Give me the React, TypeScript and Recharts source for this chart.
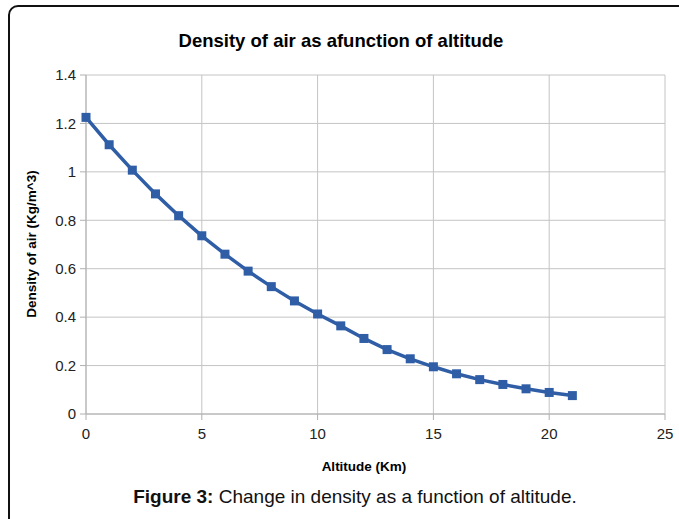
import React from "react";
import { LineChart, Line, XAxis, YAxis, CartesianGrid } from "recharts";

const altitudes = [0, 1, 2, 3, 4, 5, 6, 7, 8, 9, 10, 11, 12, 13, 14, 15, 16, 17, 18, 19, 20, 21];
const densities = [1.225, 1.112, 1.007, 0.909, 0.819, 0.736, 0.66, 0.59, 0.526, 0.467, 0.413, 0.364, 0.312, 0.266, 0.228, 0.195, 0.166, 0.142, 0.122, 0.104, 0.089, 0.076];
const xTicks = [0, 5, 10, 15, 20, 25];
const yTicks = [0, 0.2, 0.4, 0.6, 0.8, 1, 1.2, 1.4];

const data = altitudes.map((a, i) => ({ alt: a, rho: densities[i] }));

const LINE_COLOR = "#2f5ea6";
const FONT = "'Liberation Sans', Arial, sans-serif";

const SquareDot = (props: any) => {
  const { cx, cy } = props;
  if (cx == null || cy == null) return null;
  return <rect x={cx - 4.5} y={cy - 4.5} width={9} height={9} fill={LINE_COLOR} />;
};

export default function App() {
  return (
    <div style={{ position: "absolute", left: 0, top: 0, width: 679, height: 519, overflow: "hidden", background: "#fff", fontFamily: FONT }}>
      <div
        style={{
          position: "absolute",
          left: 8,
          top: 5,
          width: 720,
          height: 600,
          border: "2px solid #111",
          borderTopLeftRadius: 10,
          boxSizing: "border-box",
        }}
      />
      <div style={{ position: "absolute", left: 0, top: 0 }}>
        <LineChart width={679} height={480} data={data} margin={{ top: 75, right: 14, bottom: 36, left: 26 }}>
          <text x={341} y={40} textAnchor="middle" dominantBaseline="central" style={{ fontFamily: FONT, fontWeight: 700, fontSize: 18.5, fill: "#000" }}>
            Density of air as afunction of altitude
          </text>
          <CartesianGrid stroke="#c4c4c4" strokeWidth={1} />
          <XAxis
            dataKey="alt"
            type="number"
            domain={[0, 25]}
            ticks={xTicks}
            height={30}
            stroke="#b0b0b0"
            tickSize={6}
            tickMargin={8}
            tick={{ fill: "#222", fontSize: 15, fontFamily: FONT }}
            interval={0}
          />
          <YAxis
            type="number"
            domain={[0, 1.4]}
            ticks={yTicks}
            width={60}
            stroke="#b0b0b0"
            tickSize={6}
            tickMargin={4}
            tick={{ fill: "#222", fontSize: 15, fontFamily: FONT }}
            interval={0}
          />
          <text x={364} y={466} textAnchor="middle" dominantBaseline="central" style={{ fontFamily: FONT, fontWeight: 700, fontSize: 13.5, fill: "#000" }}>
            Altitude (Km)
          </text>
          <text
            x={31}
            y={244}
            textAnchor="middle"
            dominantBaseline="central"
            transform="rotate(-90 31 244)"
            style={{ fontFamily: FONT, fontWeight: 700, fontSize: 13.5, fill: "#000" }}
          >
            Density of air (Kg/m^3)
          </text>
          <Line
            dataKey="rho"
            stroke={LINE_COLOR}
            strokeWidth={3.5}
            dot={<SquareDot />}
            activeDot={false}
            isAnimationActive={false}
          />
        </LineChart>
      </div>
      <div
        style={{
          position: "absolute",
          left: 0,
          width: 710,
          top: 485,
          textAlign: "center",
          fontSize: 19,
          color: "#111",
          fontFamily: FONT,
          lineHeight: "24px",
        }}
      >
        <b>Figure 3:</b> Change in density as a function of altitude.
      </div>
    </div>
  );
}
